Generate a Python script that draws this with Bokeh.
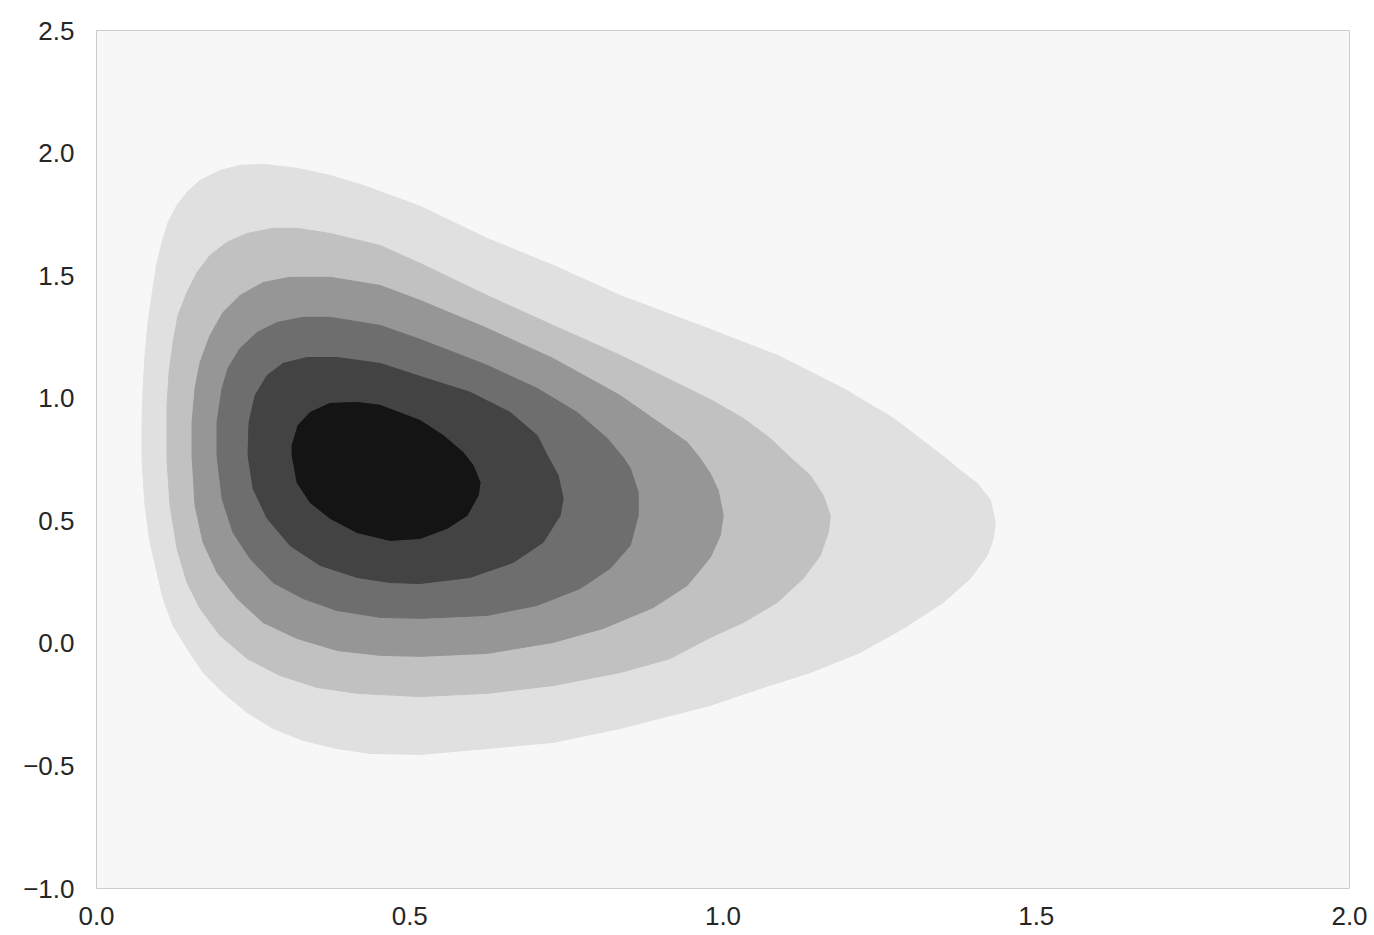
from bokeh.plotting import figure
from bokeh.models import FixedTicker, Range1d
from bokeh.embed import file_html
from bokeh.resources import INLINE

# Filled density contours (outer -> inner), in data units
level1_x = [0.2291, 0.2659, 0.3202, 0.3729, 0.4256, 0.5166, 0.6235, 0.7289, 0.8359, 0.9796,
            1.0866, 1.1920, 1.2719, 1.3517, 1.3788, 1.4060, 1.4268, 1.4347, 1.4315, 1.4220,
            1.3948, 1.3517, 1.2878, 1.2192, 1.1393, 1.0595, 0.9796, 0.8359, 0.7289, 0.6235,
            0.5166, 0.4367, 0.3840, 0.3297, 0.2818, 0.2403, 0.2020, 0.1701, 0.1445, 0.1222,
            0.1062, 0.0966, 0.0854, 0.0774, 0.0727, 0.0727, 0.0743, 0.0774, 0.0822, 0.0902,
            0.0966, 0.1046, 0.1142, 0.1285, 0.1445, 0.1653, 0.1972]
level1_y = [1.950, 1.954, 1.938, 1.909, 1.868, 1.783, 1.652, 1.542, 1.419, 1.281,
            1.175, 1.040, 0.918, 0.763, 0.705, 0.652, 0.585, 0.493, 0.428, 0.359,
            0.265, 0.167, 0.061, -0.037, -0.119, -0.184, -0.253, -0.347, -0.404, -0.429,
            -0.453, -0.449, -0.429, -0.396, -0.347, -0.282, -0.200, -0.119, -0.021, 0.073,
            0.183, 0.289, 0.412, 0.563, 0.746, 0.901, 1.040, 1.175, 1.309, 1.448,
            1.554, 1.636, 1.717, 1.787, 1.840, 1.889, 1.929]

level2_x = [0.2818, 0.3202, 0.3729, 0.4527, 0.5166, 0.6235, 0.7289, 0.8359, 0.9796, 1.0323,
            1.0754, 1.1074, 1.1393, 1.1601, 1.1713, 1.1681, 1.1553, 1.1281, 1.0866, 1.0323,
            0.9796, 0.9158, 0.8359, 0.7289, 0.6235, 0.5166, 0.4160, 0.3521, 0.2930, 0.2403,
            0.1972, 0.1653, 0.1445, 0.1285, 0.1174, 0.1126, 0.1126, 0.1158, 0.1222, 0.1301,
            0.1445, 0.1605, 0.1812, 0.2084, 0.2403]
level2_y = [1.693, 1.693, 1.672, 1.623, 1.550, 1.419, 1.297, 1.175, 0.995, 0.918,
            0.836, 0.758, 0.685, 0.603, 0.522, 0.452, 0.359, 0.265, 0.167, 0.085,
            0.024, -0.062, -0.119, -0.172, -0.204, -0.217, -0.204, -0.180, -0.131, -0.062,
            0.032, 0.142, 0.248, 0.387, 0.563, 0.746, 0.971, 1.105, 1.228, 1.338,
            1.432, 1.513, 1.583, 1.636, 1.672]

level3_x = [0.3090, 0.3729, 0.4527, 0.5166, 0.6235, 0.7289, 0.8359, 0.9429, 0.9637, 0.9796,
            0.9924, 1.0004, 0.9956, 0.9796, 0.9429, 0.8886, 0.8088, 0.7289, 0.6235, 0.5166,
            0.4527, 0.3840, 0.3202, 0.2659, 0.2244, 0.1924, 0.1701, 0.1573, 0.1525, 0.1525,
            0.1573, 0.1653, 0.1812, 0.2020, 0.2291, 0.2659]
level3_y = [1.493, 1.493, 1.460, 1.399, 1.285, 1.162, 1.011, 0.820, 0.754, 0.693,
            0.624, 0.522, 0.440, 0.350, 0.236, 0.146, 0.061, 0.004, -0.041, -0.053,
            -0.049, -0.029, 0.020, 0.085, 0.183, 0.289, 0.412, 0.563, 0.767, 0.901,
            1.040, 1.146, 1.256, 1.350, 1.419, 1.472]

level4_x = [0.3297, 0.3729, 0.4527, 0.5166, 0.6235, 0.7034, 0.7673, 0.8152, 0.8407, 0.8519,
            0.8647, 0.8647, 0.8519, 0.8200, 0.7721, 0.7034, 0.6235, 0.5166, 0.4527, 0.3840,
            0.3297, 0.2818, 0.2451, 0.2180, 0.2004, 0.1924, 0.1924, 0.2004, 0.2100, 0.2291,
            0.2563, 0.2882]
level4_y = [1.330, 1.330, 1.297, 1.240, 1.134, 1.040, 0.942, 0.836, 0.758, 0.714,
            0.616, 0.522, 0.399, 0.306, 0.224, 0.155, 0.114, 0.102, 0.106, 0.134,
            0.183, 0.248, 0.346, 0.452, 0.591, 0.767, 0.901, 1.040, 1.122, 1.203,
            1.268, 1.309]

level5_x = [0.3361, 0.3840, 0.4527, 0.5166, 0.5964, 0.6603, 0.7034, 0.7194, 0.7369, 0.7449,
            0.7401, 0.7130, 0.6651, 0.5964, 0.5166, 0.4687, 0.4160, 0.3569, 0.3090, 0.2723,
            0.2499, 0.2419, 0.2435, 0.2531, 0.2723, 0.2978]
level5_y = [1.166, 1.166, 1.142, 1.089, 1.024, 0.942, 0.848, 0.767, 0.685, 0.591,
            0.522, 0.412, 0.330, 0.269, 0.244, 0.248, 0.269, 0.318, 0.399, 0.510,
            0.632, 0.767, 0.901, 1.011, 1.093, 1.142]

level6_x = [0.4160, 0.4527, 0.5166, 0.5533, 0.5852, 0.6012, 0.6124, 0.6092, 0.5916, 0.5597,
            0.5166, 0.4687, 0.4160, 0.3729, 0.3409, 0.3202, 0.3122, 0.3122, 0.3218, 0.3409,
            0.3729]
level6_y = [0.983, 0.971, 0.909, 0.848, 0.779, 0.726, 0.656, 0.603, 0.522, 0.469,
            0.428, 0.420, 0.452, 0.510, 0.575, 0.656, 0.767, 0.807, 0.889, 0.942,
            0.979]

level_colors = ["#e0e0e0", "#c1c1c1", "#969696", "#6e6e6e", "#434343", "#141414"]

x_ticks = [0.0, 0.5, 1.0, 1.5, 2.0]
x_tick_labels = ["0.0", "0.5", "1.0", "1.5", "2.0"]
y_ticks = [-1.0, -0.5, 0.0, 0.5, 1.0, 1.5, 2.0, 2.5]
y_tick_labels = ["\u22121.0", "\u22120.5", "0.0", "0.5", "1.0", "1.5", "2.0", "2.5"]

p = figure(frame_width=1253, frame_height=858,
           min_border_left=96, min_border_top=30, min_border_right=20, min_border_bottom=46,
           x_range=Range1d(0, 2), y_range=Range1d(-1, 2.5),
           output_backend="svg", toolbar_location=None)

p.background_fill_color = "#f7f7f7"
p.border_fill_color = "white"
p.outline_line_color = "#cccccc"
p.outline_line_width = 1
p.grid.visible = False

levels = [(level1_x, level1_y), (level2_x, level2_y), (level3_x, level3_y),
          (level4_x, level4_y), (level5_x, level5_y), (level6_x, level6_y)]
for (lx, ly), c in zip(levels, level_colors):
    p.patch(lx, ly, fill_color=c, line_color=c, line_width=1, line_join="round")

for ax, ticks, labels, standoff in ((p.xaxis[0], x_ticks, x_tick_labels, 18),
                                    (p.yaxis[0], y_ticks, y_tick_labels, 22)):
    ax.ticker = FixedTicker(ticks=ticks)
    ax.major_label_overrides = {t: l for t, l in zip(ticks, labels)}
    ax.axis_line_color = None
    ax.major_tick_line_color = None
    ax.minor_tick_line_color = None
    ax.major_tick_out = 0
    ax.major_tick_in = 0
    ax.major_label_standoff = standoff
    ax.major_label_text_font = "Liberation Sans"
    ax.major_label_text_font_size = "26px"
    ax.major_label_text_color = "#262626"

open("out.html", "w").write(file_html(p, INLINE))
